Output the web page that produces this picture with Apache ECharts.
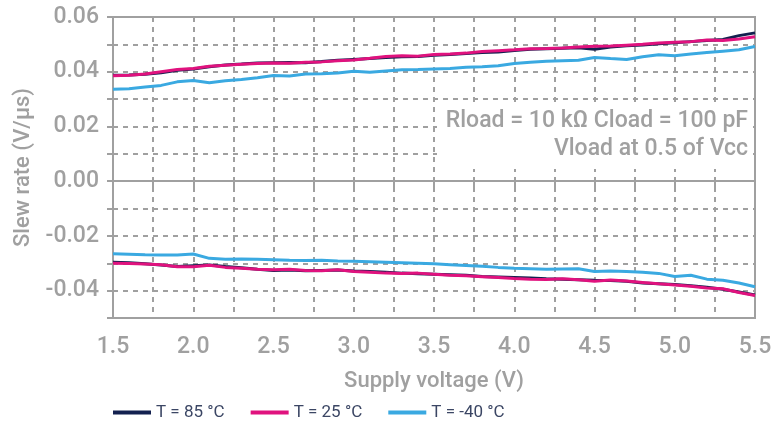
<!DOCTYPE html>
<html>
<head>
<meta charset="utf-8">
<script src="https://cdn.jsdelivr.net/npm/echarts@6/dist/echarts.min.js"></script>
<style>
  html, body { margin: 0; padding: 0; background: #fff; }
  #chart { width: 781px; height: 421px; }
</style>
</head>
<body>
<div id="chart"></div>
<script>
// supply voltage (V)
const voltage = [1.5, 1.6, 1.7, 1.8, 1.9, 2.0, 2.1, 2.2, 2.3, 2.4, 2.5, 2.6, 2.7, 2.8, 2.9, 3.0, 3.1, 3.2, 3.3, 3.4, 3.5,
  3.6, 3.7, 3.8, 3.9, 4.0, 4.1, 4.2, 4.3, 4.4, 4.5, 4.6, 4.7, 4.8, 4.9, 5.0, 5.1, 5.2, 5.3, 5.4, 5.5]

// slew rate (V/µs), rising edge
const rise85 = [0.0387, 0.0388, 0.0391, 0.0396, 0.0405, 0.0410, 0.0418, 0.0425, 0.0428, 0.0432, 0.0433, 0.0434, 0.0433, 0.0437,
  0.0442, 0.0445, 0.0448, 0.0452, 0.0455, 0.0456, 0.0460, 0.0463, 0.0467, 0.0470, 0.0472, 0.0478, 0.0482, 0.0484, 0.0486,
  0.0488, 0.0482, 0.0490, 0.0495, 0.0498, 0.0502, 0.0506, 0.0510, 0.0514, 0.0518, 0.0532, 0.0542]
const rise25 = [0.0385, 0.0387, 0.0392, 0.0400, 0.0408, 0.0412, 0.0420, 0.0424, 0.0427, 0.0430, 0.0432, 0.0431, 0.0435, 0.0436,
  0.0440, 0.0443, 0.0449, 0.0456, 0.0458, 0.0457, 0.0463, 0.0465, 0.0468, 0.0474, 0.0477, 0.0480, 0.0484, 0.0485, 0.0487,
  0.0490, 0.0493, 0.0494, 0.0497, 0.0500, 0.0505, 0.0508, 0.0510, 0.0516, 0.0514, 0.0520, 0.0528]
const riseM40 = [0.0336, 0.0338, 0.0344, 0.0350, 0.0363, 0.0368, 0.0360, 0.0367, 0.0372, 0.0378, 0.0386, 0.0384, 0.0392, 0.0393,
  0.0395, 0.0402, 0.0398, 0.0403, 0.0407, 0.0408, 0.0410, 0.0412, 0.0416, 0.0418, 0.0422, 0.0430, 0.0435, 0.0438, 0.0440,
  0.0442, 0.0452, 0.0448, 0.0445, 0.0455, 0.0462, 0.0458, 0.0465, 0.0470, 0.0475, 0.0480, 0.0492]

// slew rate (V/µs), falling edge
const fall85 = [-0.0296, -0.0298, -0.0302, -0.0306, -0.0312, -0.0309, -0.0306, -0.0312, -0.0316, -0.0322, -0.0326, -0.0325,
  -0.0327, -0.0326, -0.0325, -0.0328, -0.0330, -0.0333, -0.0336, -0.0338, -0.0340, -0.0342, -0.0344, -0.0348, -0.0350,
  -0.0352, -0.0354, -0.0357, -0.0358, -0.0360, -0.0362, -0.0363, -0.0366, -0.0372, -0.0375, -0.0378, -0.0382, -0.0388,
  -0.0395, -0.0405, -0.0416]
const fall25 = [-0.0300, -0.0301, -0.0303, -0.0305, -0.0313, -0.0313, -0.0307, -0.0315, -0.0318, -0.0322, -0.0324, -0.0322,
  -0.0326, -0.0327, -0.0324, -0.0330, -0.0333, -0.0336, -0.0337, -0.0336, -0.0340, -0.0344, -0.0346, -0.0349, -0.0352,
  -0.0356, -0.0358, -0.0359, -0.0357, -0.0360, -0.0366, -0.0361, -0.0365, -0.0370, -0.0375, -0.0379, -0.0384, -0.0390,
  -0.0393, -0.0407, -0.0418]
const fallM40 = [-0.0265, -0.0267, -0.0269, -0.0270, -0.0270, -0.0266, -0.0282, -0.0285, -0.0284, -0.0285, -0.0287, -0.0289,
  -0.0290, -0.0289, -0.0292, -0.0293, -0.0294, -0.0296, -0.0298, -0.0300, -0.0302, -0.0305, -0.0308, -0.0311, -0.0315,
  -0.0318, -0.0320, -0.0322, -0.0321, -0.0320, -0.0330, -0.0328, -0.0330, -0.0333, -0.0337, -0.0348, -0.0344, -0.0358,
  -0.0362, -0.0372, -0.0386]

const legendNames = ['T = 85 °C', 'T = 25 °C', 'T = -40 °C']
const colors = ['#13204f', '#e0127e', '#3aa9e1']

const FONT = "Roboto, 'Liberation Sans', sans-serif"
const GRAY = '#a0a0a0'

const pairs = vals => voltage.map((v, i) => [v, vals[i]])

const makeLine = (name, color, vals) => ({
  name: name,
  type: 'line',
  data: pairs(vals),
  showSymbol: false,
  symbol: 'none',
  lineStyle: { color: color, width: 3 },
  itemStyle: { color: color },
  animation: false
})

const chart = echarts.init(document.getElementById('chart'))

const option = {
  backgroundColor: '#fff',
  grid: {
    left: 113, right: 26, top: 17, bottom: 103,
    show: true,
    borderColor: GRAY,
    borderWidth: 2
  },
  legend: {
    data: legendNames,
    left: 108,
    top: 399,
    icon: 'rect',
    itemWidth: 38,
    itemHeight: 4,
    itemGap: 26,
    textStyle: { color: '#3b4664', fontSize: 17, fontFamily: FONT }
  },
  xAxis: {
    type: 'value',
    min: 1.5,
    max: 5.5,
    interval: 0.25,
    name: 'Supply voltage (V)',
    nameLocation: 'middle',
    nameGap: 52,
    nameTextStyle: { color: GRAY, fontSize: 22, fontWeight: 500, fontFamily: FONT },
    axisLine: { lineStyle: { color: GRAY, width: 2 } },
    axisTick: { show: true, length: 6, lineStyle: { color: GRAY, width: 2 } },
    axisLabel: {
      color: GRAY, fontSize: 23, fontWeight: 500, fontFamily: FONT, margin: 18,
      formatter: v => Math.abs(v * 2 - Math.round(v * 2)) < 1e-6 ? v.toFixed(1) : ''
    },
    splitLine: { show: true, lineStyle: { color: GRAY, width: 2, type: [5, 5] } }
  },
  yAxis: {
    type: 'value',
    min: -0.05,
    max: 0.06,
    interval: 0.01,
    name: 'Slew rate (V/µs)',
    nameLocation: 'middle',
    nameGap: 70,
    nameTextStyle: { color: GRAY, fontSize: 22, fontWeight: 500, fontFamily: FONT },
    axisLine: { show: true, lineStyle: { color: GRAY, width: 2 } },
    axisTick: { show: true, length: 6, lineStyle: { color: GRAY, width: 2 } },
    axisLabel: {
      color: GRAY, fontSize: 23, fontWeight: 500, fontFamily: FONT, margin: 14,
      formatter: v => {
        const k = Math.round(v * 100)
        return k % 2 === 0 ? v.toFixed(2) : ''
      }
    },
    splitLine: { show: true, lineStyle: { color: GRAY, width: 2, type: [5, 5] } }
  },
  graphic: [
    {
      type: 'rect',
      left: 437,
      top: 105,
      shape: { width: 316, height: 64 },
      style: { fill: '#fff' },
      z: 50
    },
    {
      type: 'text',
      right: 33,
      top: 110,
      style: { text: 'Rload = 10 kΩ Cload = 100 pF', fill: GRAY, fontSize: 23, fontWeight: 500, fontFamily: FONT, align: 'right' },
      z: 51
    },
    {
      type: 'text',
      right: 33,
      top: 138,
      style: { text: 'Vload at 0.5 of Vcc', fill: GRAY, fontSize: 23, fontWeight: 500, fontFamily: FONT, align: 'right' },
      z: 51
    }
  ],
  series: [
    makeLine(legendNames[0], colors[0], rise85),
    makeLine(legendNames[0], colors[0], fall85),
    makeLine(legendNames[1], colors[1], rise25),
    makeLine(legendNames[1], colors[1], fall25),
    makeLine(legendNames[2], colors[2], riseM40),
    makeLine(legendNames[2], colors[2], fallM40)
  ]
}

chart.setOption(option)
</script>
</body>
</html>
